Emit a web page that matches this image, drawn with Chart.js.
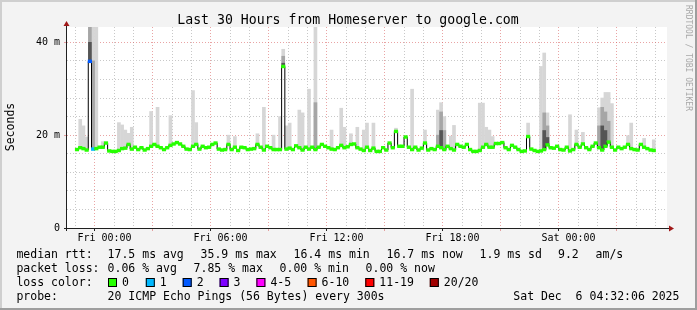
<!DOCTYPE html>
<html>
<head>
<meta charset="utf-8">
<title>Last 30 Hours from Homeserver to google.com</title>
<script src="https://cdn.jsdelivr.net/npm/chart.js@4.4.1/dist/chart.umd.min.js"></script>
<style>
  html, body { margin: 0; padding: 0; background: #f3f3f3; }
  canvas { display: block; }
</style>
</head>
<body>
<canvas id="smoke" width="697" height="310"></canvas>
<script>
const FONT = '"DejaVu Sans Mono", "Liberation Mono", monospace';

// time axis in hours relative to Fri 00:00, one slot = 10 minutes
const startHour = -1.425;
const slotHours = 1 / 6;
const spanHours = 30;

// median rtt in ms per slot
const medianRtt = [
  16.9, 17.3, 17.1, 16.8, 35.9, 17.0, 17.1, 17.4, 17.4, 18.3,
  16.6, 16.5, 16.5, 16.7, 17.1, 17.2, 18.0, 17.0, 17.4, 16.9,
  17.3, 16.8, 17.1, 17.6, 18.0, 17.6, 17.3, 16.9, 17.3, 17.8,
  18.1, 18.4, 18.1, 17.6, 17.0, 16.9, 17.6, 18.0, 17.0, 17.6,
  17.3, 17.4, 18.0, 18.3, 17.0, 16.8, 16.9, 18.0, 16.9, 17.4,
  16.7, 17.4, 17.3, 16.9, 17.0, 17.1, 18.0, 17.4, 16.8, 17.6,
  17.3, 16.9, 16.9, 16.9, 34.8, 17.0, 17.2, 16.9, 17.7, 17.3,
  16.8, 17.4, 17.0, 17.4, 16.9, 17.4, 18.0, 17.6, 17.3, 17.0,
  16.9, 17.3, 17.8, 17.3, 17.5, 18.0, 18.1, 17.3, 17.0, 16.7,
  17.4, 16.7, 17.2, 16.5, 16.5, 17.3, 16.8, 18.3, 17.3, 20.8,
  17.6, 17.6, 19.6, 17.4, 16.9, 17.4, 16.8, 17.2, 18.3, 16.8,
  17.1, 16.9, 17.6, 17.3, 16.9, 17.6, 17.1, 16.8, 18.0, 17.6,
  17.4, 18.0, 16.9, 16.5, 16.5, 16.7, 17.4, 18.0, 17.4, 17.4,
  18.2, 18.2, 18.4, 17.3, 16.9, 17.8, 17.4, 16.9, 16.5, 16.6,
  19.7, 17.0, 16.7, 16.5, 16.6, 16.9, 17.9, 17.3, 17.2, 17.6,
  16.9, 16.8, 17.4, 16.6, 16.9, 18.0, 17.4, 18.1, 17.3, 16.9,
  17.6, 18.3, 17.3, 16.8, 17.6, 18.5, 17.4, 16.8, 17.4, 17.1,
  17.4, 18.0, 17.1, 16.9, 16.8, 18.0, 17.4, 17.1, 16.8, 16.7
];

// slots with packet loss (lost pings out of 20)
const lossSlots = [4, 5];
const lossPings = [2, 1];

const lossNames = ['0', '1', '2', '3', '4-5', '6-10', '11-19', '20/20'];
const lossFloor = [0, 1, 2, 3, 4, 6, 11, 20];
const lossColors = ['#26ff00', '#00b8ff', '#0059ff', '#7e00ff', '#ff00ff', '#ff5500', '#ff0000', '#a10000'];

// smoke: slot and top of the light / mid / dark layers in ms (0 = none)
const smokeSlots = [1, 2, 3, 4, 5, 6, 8, 13, 14, 15, 16, 17, 23, 25, 29, 36, 37, 47, 49, 56,
  58, 61, 63, 64, 65, 66, 69, 70, 72, 74, 79, 82, 83, 85, 87, 89, 90, 92, 99, 104,
  108, 112, 113, 114, 116, 117, 125, 126, 127, 128, 129, 140, 144, 145, 146, 153, 155, 157, 162, 163,
  164, 165, 166, 171, 172, 176, 179];
const smokeTop = [23.4, 22.0, 19.6, 43.3, 43.3, 43.3, 18.6, 22.7, 22.2, 21.1, 20.4, 21.7, 25.1, 26.0, 24.2, 29.6, 22.7, 20.0, 19.7, 20.3,
  26.0, 20.0, 24.0, 38.5, 22.0, 22.6, 25.4, 24.8, 29.9, 43.3, 21.1, 25.8, 21.7, 20.3, 21.7, 21.1, 22.6, 22.6, 21.5, 29.9,
  21.1, 25.4, 27.0, 24.0, 19.8, 22.1, 26.9, 26.9, 21.7, 21.1, 19.7, 22.6, 34.8, 37.7, 24.8, 24.4, 21.1, 20.6, 25.9, 28.0,
  29.2, 29.2, 26.8, 19.9, 22.6, 19.3, 19.0];
const smokeMid = [0, 0, 0, 43.3, 36.0, 0, 0, 0, 0, 0, 0, 0, 0, 0, 0, 0, 0, 0, 0, 0,
  0, 0, 0, 37.0, 0, 0, 0, 0, 0, 27.0, 0, 0, 0, 0, 0, 0, 0, 0, 0, 0,
  0, 20.0, 25.0, 21.0, 0, 0, 0, 0, 0, 0, 0, 0, 0, 24.8, 22.0, 0, 0, 0, 22.0, 26.0,
  25.0, 23.0, 0, 0, 0, 0, 0];
const smokeDark = [0, 0, 0, 40.0, 0, 0, 0, 0, 0, 0, 0, 0, 0, 0, 0, 0, 0, 0, 0, 0,
  0, 0, 0, 35.5, 0, 0, 0, 0, 0, 0, 0, 0, 0, 0, 0, 0, 0, 0, 0, 0,
  0, 0, 21.0, 0, 0, 0, 0, 0, 0, 0, 0, 0, 0, 21.0, 19.5, 0, 0, 0, 0, 22.0,
  21.0, 0, 0, 0, 0, 0, 0];

const tickHours = [0, 6, 12, 18, 24];
const tickNames = ['Fri 00:00', 'Fri 06:00', 'Fri 12:00', 'Fri 18:00', 'Sat 00:00'];
const gridHours = Array.from({ length: 30 }, (_, k) => k - 1);
const gridMs = Array.from({ length: 22 }, (_, k) => k * 2);

const rttLegend = ['17.5 ms avg', '35.9 ms max', '16.4 ms min', '16.7 ms now', '1.9 ms sd', '9.2', 'am/s'];
const lossLegend = ['0.06 % avg', '7.85 % max', '0.00 % min', '0.00 % now'];

const hours = medianRtt.map((_, i) => startHour + i * slotHours);

function lossColor(i) {
    const k = lossSlots.indexOf(i);
    const lost = k < 0 ? 0 : lossPings[k];
    let c = 0;
    lossFloor.forEach((f, j) => { if (lost >= f) c = j; });
    return lossColors[c];
}

function smokeLayer(tops) {
    const out = [];
    smokeSlots.forEach((s, k) => {
        if (tops[k] > 0) out.push({ x: hours[s], y: [medianRtt[s], tops[k]] });
    });
    return out;
}

const MAJOR = 'rgba(215, 90, 90, 0.55)';
const MINOR = '#c8c8c8';

const rrdFrame = {
    id: 'rrdFrame',
    beforeDraw(chart) {
        const { ctx, chartArea: a, width, height } = chart;
        ctx.save();
        ctx.fillStyle = '#f3f3f3';
        ctx.fillRect(0, 0, width, height);
        ctx.fillStyle = '#cfcfcf';
        ctx.fillRect(0, 0, width, 2);
        ctx.fillRect(0, 0, 2, height);
        ctx.fillStyle = '#9e9e9e';
        ctx.fillRect(0, height - 2, width, 2);
        ctx.fillRect(width - 2, 0, 2, height);
        ctx.fillStyle = '#ffffff';
        ctx.fillRect(a.left, a.top, a.right - a.left, a.bottom - a.top);
        ctx.restore();
    },
    afterDraw(chart) {
        const { ctx, chartArea: a } = chart;
        ctx.save();
        // axes
        ctx.strokeStyle = '#202020';
        ctx.lineWidth = 1;
        ctx.beginPath();
        ctx.moveTo(a.left - 0.5, a.bottom + 3);
        ctx.lineTo(a.left - 0.5, a.top - 1);
        ctx.moveTo(a.left - 3, a.bottom + 0.5);
        ctx.lineTo(a.right + 2, a.bottom + 0.5);
        ctx.stroke();
        ctx.fillStyle = '#a01818';
        ctx.beginPath();
        ctx.moveTo(a.left - 0.5, a.top - 6);
        ctx.lineTo(a.left - 3.5, a.top - 1);
        ctx.lineTo(a.left + 2.5, a.top - 1);
        ctx.closePath();
        ctx.fill();
        ctx.beginPath();
        ctx.moveTo(a.right + 7, a.bottom + 0.5);
        ctx.lineTo(a.right + 2, a.bottom - 2.5);
        ctx.lineTo(a.right + 2, a.bottom + 3.5);
        ctx.closePath();
        ctx.fill();

        // title
        ctx.fillStyle = '#000';
        ctx.textBaseline = 'alphabetic';
        ctx.textAlign = 'center';
        ctx.font = '13.2px ' + FONT;
        ctx.fillText('Last 30 Hours from Homeserver to google.com', 348, 23.5);

        // vertical label
        ctx.save();
        ctx.translate(11, 127);
        ctx.rotate(-Math.PI / 2);
        ctx.font = '11.5px ' + FONT;
        ctx.textBaseline = 'middle';
        ctx.fillText('Seconds', 0, 0);
        ctx.restore();

        // watermark
        ctx.save();
        ctx.translate(688.5, 5);
        ctx.rotate(Math.PI / 2);
        ctx.font = '8px ' + FONT;
        ctx.fillStyle = '#a8a8a8';
        ctx.textAlign = 'left';
        ctx.textBaseline = 'middle';
        ctx.fillText('RRDTOOL / TOBI OETIKER', 0, 0);
        ctx.restore();

        // legend
        ctx.font = '11.5px ' + FONT;
        ctx.textAlign = 'left';
        ctx.fillStyle = '#000';
        ctx.fillText('median rtt:', 16.4, 258);
        [107.6, 200.6, 293.6, 386.6, 479.6, 558, 595.6].forEach((x, k) => ctx.fillText(rttLegend[k], x, 258));
        ctx.fillText('packet loss:', 16.4, 272);
        [107.6, 193.6, 279.6, 365.6].forEach((x, k) => ctx.fillText(lossLegend[k], x, 272));
        ctx.fillText('loss color:', 16.4, 286);
        const boxX = [108, 145.8, 182.7, 219.6, 256.4, 307.6, 365.3, 429.8];
        boxX.forEach((x, k) => {
            ctx.fillStyle = lossColors[k];
            ctx.fillRect(x, 278, 9, 9);
            ctx.strokeStyle = '#000';
            ctx.strokeRect(x + 0.5, 278.5, 8, 8);
            ctx.fillStyle = '#000';
            ctx.fillText(lossNames[k], x + 14, 286);
        });
        ctx.fillText('probe:', 16.4, 300);
        ctx.fillText('20 ICMP Echo Pings (56 Bytes) every 300s', 107.6, 300);
        ctx.fillText('Sat Dec  6 04:32:06 2025', 513.3, 300);
        ctx.restore();
    }
};

new Chart(document.getElementById('smoke'), {
    data: {
        datasets: [
            {
                type: 'bar',
                data: medianRtt.map((v, i) => ({ x: hours[i], y: [v - 0.3, v + 0.3] })),
                backgroundColor: medianRtt.map((_, i) => lossColor(i)),
                barThickness: 3.5,
                grouped: false,
                order: 0
            },
            {
                type: 'line',
                data: medianRtt.map((v, i) => ({ x: hours[i], y: v })),
                borderColor: '#000000',
                borderWidth: 1,
                stepped: 'middle',
                pointRadius: 0,
                order: 1
            },
            {
                type: 'bar',
                data: smokeLayer(smokeDark),
                backgroundColor: '#555555',
                barThickness: 3,
                grouped: false,
                order: 2
            },
            {
                type: 'bar',
                data: smokeLayer(smokeMid),
                backgroundColor: '#a6a6a6',
                barThickness: 3,
                grouped: false,
                order: 3
            },
            {
                type: 'bar',
                data: smokeLayer(smokeTop),
                backgroundColor: '#d6d6d6',
                barThickness: 3,
                grouped: false,
                order: 4
            }
        ]
    },
    options: {
        responsive: false,
        animation: false,
        events: [],
        layout: { padding: { top: 27, right: 30, left: 0, bottom: 0 } },
        plugins: {
            legend: { display: false },
            tooltip: { enabled: false }
        },
        scales: {
            x: {
                type: 'linear',
                min: startHour,
                max: startHour + spanHours,
                afterBuildTicks(scale) { scale.ticks = gridHours.map(v => ({ value: v })); },
                afterFit(scale) { scale.height = 82; },
                border: {
                    display: false,
                    dash: ctx => [1, 2]
                },
                grid: {
                    color: ctx => ctx.tick && Math.round(ctx.tick.value) % 3 === 0 ? MAJOR : MINOR,
                    drawTicks: true,
                    tickLength: 3,
                    tickColor: ctx => {
                        if (!ctx.tick) return 'transparent';
                        const h = Math.round(ctx.tick.value);
                        if (tickHours.includes(h)) return '#202020';
                        return h % 3 === 0 ? MAJOR : 'transparent';
                    }
                },
                ticks: {
                    autoSkip: false,
                    maxRotation: 0,
                    minRotation: 0,
                    padding: 1,
                    color: '#000',
                    font: { family: FONT, size: 10 },
                    callback: v => {
                        const k = tickHours.indexOf(Math.round(v));
                        return k >= 0 ? tickNames[k] : '';
                    }
                }
            },
            y: {
                type: 'linear',
                min: 0,
                max: 43.3,
                afterBuildTicks(scale) { scale.ticks = gridMs.map(v => ({ value: v })); },
                afterFit(scale) { scale.width = 67; },
                border: {
                    display: false,
                    dash: ctx => [1, 2]
                },
                grid: {
                    color: ctx => ctx.tick && Math.round(ctx.tick.value) % 10 === 0 ? MAJOR : MINOR,
                    drawTicks: true,
                    tickLength: 3,
                    tickColor: ctx => ctx.tick && Math.round(ctx.tick.value) % 10 === 0 ? MAJOR : 'transparent'
                },
                ticks: {
                    padding: 4,
                    color: '#000',
                    font: { family: FONT, size: 10 },
                    callback: v => {
                        const r = Math.round(v);
                        if (r === 0) return '0';
                        return r % 10 === 0 ? r + ' m' : '';
                    }
                }
            }
        }
    },
    plugins: [rrdFrame]
});
</script>
</body>
</html>
